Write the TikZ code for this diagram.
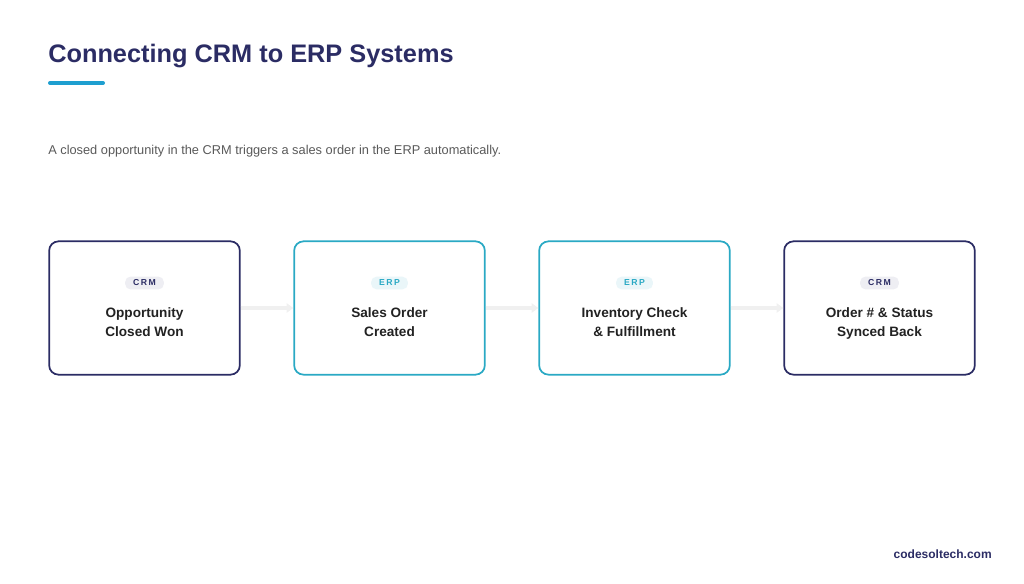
\documentclass[tikz,border=0pt]{standalone}
\usepackage{fontspec}
\setmainfont{Liberation Sans}
\usetikzlibrary{positioning, arrows.meta}
\definecolor{navy}{HTML}{2B2C64}
\definecolor{teal}{HTML}{2AA9C4}
\definecolor{cyanline}{HTML}{1E9FD0}
\definecolor{txt}{HTML}{222222}
\tikzset{
    % step boxes
    crmbox/.style={
           rectangle, rounded corners=7pt,
           draw=navy, line width=1.3pt, fill=white,
           minimum width=143pt, minimum height=100pt},
    erpbox/.style={crmbox, draw=teal},
    % small tags
    tag/.style={
           rectangle, rounded corners=4pt, inner xsep=6pt, inner ysep=2.5pt,
           font=\fontsize{6.5}{8}\selectfont\bfseries},
    steptext/.style={
           align=center, text=txt, anchor=north,
           font=\fontsize{10.2}{14.5}\selectfont\bfseries},
    % connector
    flow/.style={-{Triangle[length=5pt,width=7pt]}, line width=2.5pt, draw=gray!12}
}
\begin{document}
\begin{tikzpicture}[x=0.75pt,y=-0.75pt]
  \useasboundingbox (0,0) rectangle (1024,584);
  \node[anchor=west, inner sep=0pt, text=navy, font=\fontsize{19}{22}\selectfont\bfseries] (title) at (48,56) {Connecting CRM to ERP Systems};
  \draw[cyanline, line width=3pt, line cap=round] (50,83) coordinate (ula) -- (103,83) coordinate (ulb);
  \node[anchor=west, inner sep=0pt, text=gray!70!black, font=\fontsize{9.6}{12}\selectfont] (sub) at (48,151) {A closed opportunity in the CRM triggers a sales order in the ERP automatically.};
  % steps
  \node[crmbox] (opp) at (144.5,308) {};
  \node[erpbox] (sales) at (389.5,308) {};
  \node[erpbox] (inv) at (634.5,308) {};
  \node[crmbox] (sync) at (879.5,308) {};
  \node[tag, fill=navy!8, text=navy] (t1) at (144.5,283) {C\,R\,M};
  \node[tag, fill=teal!10, text=teal] (t2) at (389.5,283) {E\,R\,P};
  \node[tag, fill=teal!10, text=teal] (t3) at (634.5,283) {E\,R\,P};
  \node[tag, fill=navy!8, text=navy] (t4) at (879.5,283) {C\,R\,M};
  \node[steptext] (l1) at (144.5,303) {Opportunity\\Closed Won};
  \node[steptext] (l2) at (389.5,303) {Sales Order\\Created};
  \node[steptext] (l3) at (634.5,303) {Inventory Check\\\& Fulfillment};
  \node[steptext] (l4) at (879.5,303) {Order \# \& Status\\Synced Back};
  \draw[flow] (opp) -- (sales);
  \draw[flow] (sales) -- (inv);
  \draw[flow] (inv) -- (sync);
  \node[anchor=east, inner sep=0pt, text=navy, font=\fontsize{9}{10}\selectfont\bfseries] (web) at (992,554) {codesoltech.com};
\end{tikzpicture}
\end{document}
